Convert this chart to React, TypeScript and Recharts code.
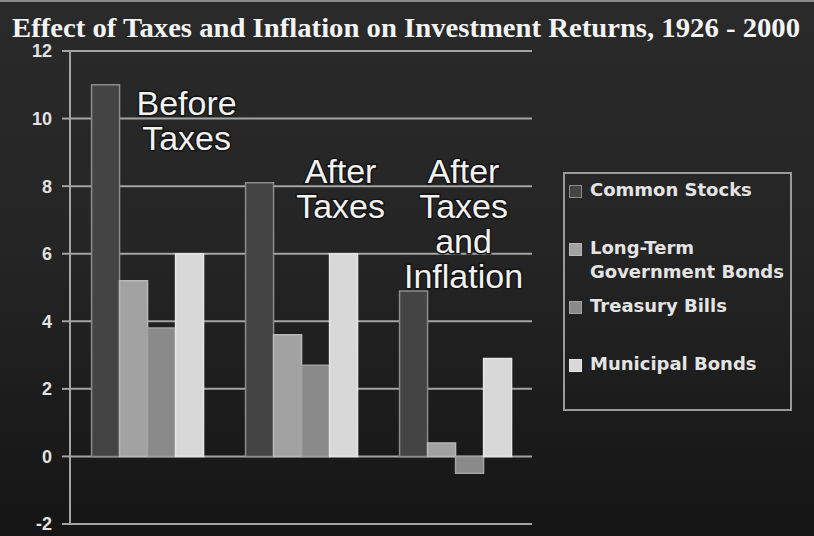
import { BarChart, Bar, XAxis, YAxis, CartesianGrid, LabelList } from "recharts";

const CATEGORIES = ["Before Taxes", "After Taxes", "After Taxes and Inflation"];
const COMMON_STOCKS = [11.0, 8.1, 4.9];
const LONG_TERM_BONDS = [5.2, 3.6, 0.4];
const TREASURY_BILLS = [3.8, 2.7, -0.5];
const MUNICIPAL_BONDS = [6.0, 6.0, 2.9];
const Y_TICKS = [-2, 0, 2, 4, 6, 8, 10, 12];
const CATEGORY_LINES = [["Before", "Taxes"], ["After", "Taxes"], ["After", "Taxes", "and", "Inflation"]];

const SERIES = [
  { key: "common", label: ["Common Stocks"], fill: "#444444", stroke: "#8c8c8c" },
  { key: "longTerm", label: ["Long-Term", "Government Bonds"], fill: "#a2a2a2", stroke: "#b8b8b8" },
  { key: "treasury", label: ["Treasury Bills"], fill: "#8a8a8a", stroke: "#a2a2a2" },
  { key: "municipal", label: ["Municipal Bonds"], fill: "#d8d8d8", stroke: "#e6e6e6" },
];

const data = CATEGORIES.map((name, i) => ({
  name,
  common: COMMON_STOCKS[i],
  longTerm: LONG_TERM_BONDS[i],
  treasury: TREASURY_BILLS[i],
  municipal: MUNICIPAL_BONDS[i],
}));

const LINE = "#a4a4a4";

// where each group's caption sits, relative to its first bar
const CAPTION_DX = [95, 95, 64];
const CAPTION_TOP = [115, 183, 183];

function Caption(props: any) {
  const { x, index } = props;
  const lines = CATEGORY_LINES[index];
  const cx = x + CAPTION_DX[index];
  return (
    <text
      x={cx}
      y={CAPTION_TOP[index]}
      textAnchor="middle"
      fontFamily="'Liberation Sans', Arial, sans-serif"
      fontSize={34}
      fill="#f2f2f2"
      stroke="#151515"
      strokeWidth={3}
      paintOrder="stroke"
    >
      {lines.map((l, i) => (
        <tspan key={i} x={cx} dy={i === 0 ? 0 : 35}>
          {l}
        </tspan>
      ))}
    </text>
  );
}

function ChartLegend() {
  return (
    <div
      style={{
        position: "absolute",
        left: 563,
        top: 170,
        width: 225,
        height: 231,
        border: "2px solid #9a9a9a",
        fontFamily: "'DejaVu Sans', Verdana, sans-serif",
        fontWeight: "bold",
        fontSize: 18,
        color: "#e4e4e4",
        paddingTop: 4,
        boxSizing: "content-box",
      }}
    >
      {SERIES.map((s) => (
        <div key={s.key} style={{ display: "flex", height: 58, paddingLeft: 4 }}>
          <div
            style={{
              width: 11,
              height: 11,
              marginTop: 7,
              marginRight: 8,
              background: s.fill,
              border: `1px solid ${s.stroke}`,
              flexShrink: 0,
            }}
          />
          <div style={{ lineHeight: "24px", whiteSpace: "nowrap" }}>
            {s.label.map((l) => (
              <div key={l}>{l}</div>
            ))}
          </div>
        </div>
      ))}
    </div>
  );
}

export default function App() {
  return (
    <div
      style={{
        position: "absolute",
        left: 0,
        top: 0,
        width: 814,
        height: 536,
        background: "linear-gradient(#2a2a2a, #252525 45%, #151515)",
        borderTop: "2px solid #8a8a8a",
        boxSizing: "border-box",
        overflow: "hidden",
      }}
    >
      <svg width={814} height={48} style={{ position: "absolute", left: 0, top: -2 }}>
        <text
          x={12}
          y={37}
          textLength={788}
          lengthAdjust="spacingAndGlyphs"
          fontFamily="'Liberation Serif', 'Times New Roman', serif"
          fontWeight="bold"
          fontSize={27}
          fill="#f4f4f4"
        >
          Effect of Taxes and Inflation on Investment Returns, 1926 - 2000
        </text>
      </svg>
      <div style={{ position: "absolute", left: 0, top: -2 }}>
        <BarChart
          width={814}
          height={536}
          data={data}
          margin={{ top: 51, right: 282, bottom: 12, left: 0 }}
          barCategoryGap="14%"
          barGap={0}
        >
          <CartesianGrid vertical={false} stroke={LINE} strokeWidth={2} strokeOpacity={1} />
          <XAxis dataKey="name" hide />
          <YAxis
            domain={[-2, 12]}
            ticks={Y_TICKS}
            width={70}
            interval={0}
            axisLine={{ stroke: LINE, strokeWidth: 2 }}
            tickLine={{ stroke: LINE, strokeWidth: 2 }}
            tickSize={8}
            tickMargin={10}
            tick={{ fill: "#e2e2e2", fontSize: 18, fontWeight: "bold", fontFamily: "'Liberation Sans', Arial, sans-serif" }}
          />
          <YAxis
            yAxisId="frame"
            orientation="right"
            domain={[-2, 12]}
            width={0}
            tick={false}
            tickLine={false}
            axisLine={{ stroke: LINE, strokeWidth: 2 }}
          />
          {SERIES.map((s) => (
            <Bar
              key={s.key}
              dataKey={s.key}
              fill={s.fill}
              stroke={s.stroke}
              strokeWidth={1.5}
              isAnimationActive={false}
            >
              {s.key === "common" && <LabelList dataKey="common" content={<Caption />} />}
            </Bar>
          ))}
        </BarChart>
      </div>
      <ChartLegend />
    </div>
  );
}
